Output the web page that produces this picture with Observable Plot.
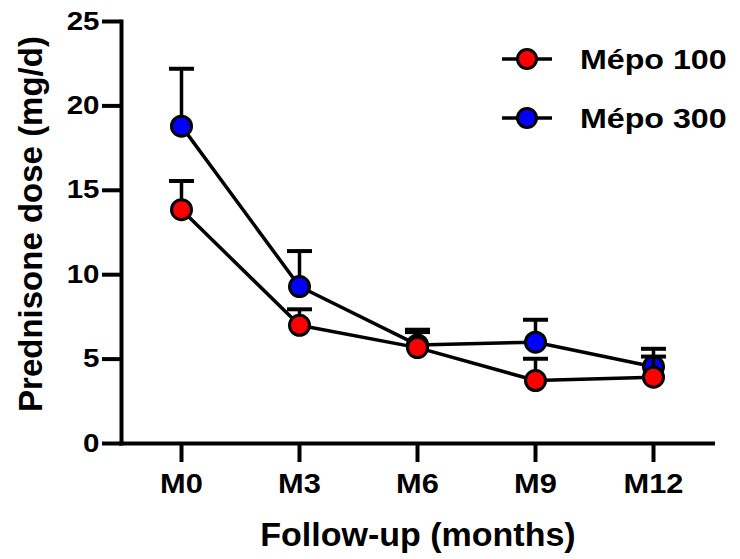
<!DOCTYPE html>
<html>
<head>
<meta charset="utf-8">
<script src="https://cdn.jsdelivr.net/npm/d3@7"></script>
<script src="https://cdn.jsdelivr.net/npm/@observablehq/plot@0.6"></script>
<style>
  html, body { margin: 0; padding: 0; background: #fff; }
  #chart { width: 740px; height: 559px; }
</style>
</head>
<body>
<div id="chart"></div>
<script>
// ---- data ----
const months = ["M0", "M3", "M6", "M9", "M12"];
const yTicks = [0, 5, 10, 15, 20, 25];
const groups = ["Mépo 100", "Mépo 300"];
const groupColors = ["#ff0000", "#0000ff"];
const mean100 = [13.85, 7.0, 5.68, 3.73, 3.93];
const sem100  = [1.70, 0.95, 0.92, 1.29, 1.22];
const mean300 = [18.8, 9.3, 5.84, 6.0, 4.55];
const sem300  = [3.4, 2.1, 0.9, 1.33, 1.06];
const xTitle = "Follow-up (months)";
const yTitle = "Prednisone dose (mg/d)";

const table = (g, means, sems) => months.map((m, i) => ({
  group: g, month: m, mean: means[i], top: means[i] + sems[i]
}));
const d100 = table(groups[0], mean100, sem100);
const d300 = table(groups[1], mean300, sem300);

// horizontal cap symbol for error bars
const capSymbol = {
  draw(ctx) { ctx.moveTo(-12.5, 0); ctx.lineTo(12.5, 0); }
};

const seriesMarks = (data, color) => [
  Plot.line(data, {x: "month", y: "mean", stroke: "black", strokeWidth: 3.5}),
  Plot.ruleX(data, {x: "month", y1: "mean", y2: "top", stroke: "black", strokeWidth: 3.5}),
  Plot.dot(data, {x: "month", y: "top", symbol: capSymbol, fill: "none", stroke: "black", strokeWidth: 4}),
  Plot.dot(data, {x: "month", y: "mean", r: 10, fill: color, stroke: "black", strokeWidth: 3})
];

const FONT = "'Liberation Sans', Arial, sans-serif";

const plot = Plot.plot({
  width: 740,
  height: 559,
  marginLeft: 121,
  marginRight: 27,
  marginTop: 21,
  marginBottom: 116,
  x: {type: "point", domain: months, padding: 0.5},
  y: {domain: [0, 25]},
  style: {fontFamily: FONT, fontWeight: "bold", color: "black", background: "white"},
  marks: [
    Plot.axisY({ticks: yTicks, tickSize: 19, tickPadding: 3, fontSize: 25, strokeWidth: 4, label: null}),
    Plot.axisX({tickSize: 19, tickPadding: 11, fontSize: 28, strokeWidth: 4, label: null}),
    Plot.ruleY([0], {stroke: "black", strokeWidth: 4, strokeLinecap: "square"}),
    Plot.frame({anchor: "left", stroke: "black", strokeWidth: 4}),
    ...seriesMarks(d300, groupColors[1]),
    ...seriesMarks(d100, groupColors[0])
  ]
});

document.getElementById("chart").appendChild(plot);

const svg = d3.select(plot);
// widen tick labels slightly to match reference typography
function widen(label, k) {
  svg.selectAll(`g[aria-label="${label}"] text`).each(function () {
    const t = this.getAttribute("transform") || "";
    this.setAttribute("transform", t + ` scale(${k},1)`);
  });
}
widen("y-axis tick label", 1.18);
widen("x-axis tick label", 1.1);

// axis titles
svg.append("text")
  .attr("transform", "translate(42,224) rotate(-90)")
  .attr("text-anchor", "middle")
  .attr("font-size", 33).attr("font-weight", "bold")
  .attr("font-family", FONT)
  .attr("fill", "black")
  .text(yTitle);
svg.append("text")
  .attr("x", 418).attr("y", 546)
  .attr("text-anchor", "middle")
  .attr("font-size", 34).attr("font-weight", "bold")
  .attr("font-family", FONT)
  .attr("fill", "black")
  .text(xTitle);

// legend
const lg = svg.append("g");
groups.forEach((g, i) => {
  const cy = 59 + 59 * i;
  lg.append("line").attr("x1", 502).attr("x2", 552).attr("y1", cy).attr("y2", cy)
    .attr("stroke", "black").attr("stroke-width", 3.5);
  lg.append("circle").attr("cx", 527).attr("cy", cy).attr("r", 9.5)
    .attr("fill", groupColors[i]).attr("stroke", "black").attr("stroke-width", 3);
  lg.append("text").attr("transform", `translate(580,${cy + 10}) scale(1.15,1)`)
    .attr("text-anchor", "start")
    .attr("font-size", 28).attr("font-weight", "bold")
    .attr("font-family", FONT)
    .attr("fill", "black")
    .text(g);
});
</script>
</body>
</html>
